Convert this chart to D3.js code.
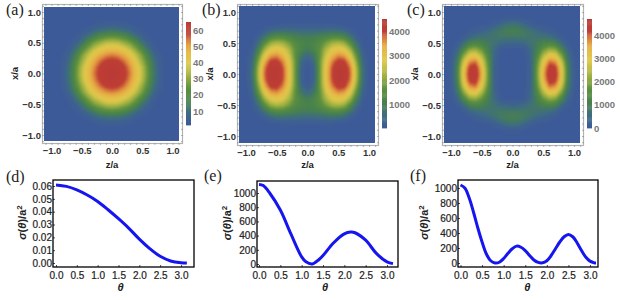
<!DOCTYPE html>
<html lang="en">
<head>
  <meta charset="UTF-8">
  <title>Scattering density and cross sections</title>
  <script src="https://d3js.org/d3.v7.min.js"></script>
  <style>
    html, body { margin: 0; padding: 0; background: #fff; }
    text { font-family: "Liberation Sans", Arial, sans-serif; }
    .panelLabel { font-family: "Liberation Serif", serif; font-size: 16px; fill: #222; }
    .heatTick text { font-size: 9.5px; font-weight: bold; fill: #333; }
    .barTick text { font-size: 9.5px; font-weight: bold; fill: #777; }
    .lineTick text { font-size: 10px; fill: #222; stroke: #222; stroke-width: 0.2px; }
    .title { font-size: 9.5px; font-weight: bold; fill: #222; }
  </style>
</head>
<body>
<svg width="620" height="300" id="chart"></svg>

<script>
  // one quadrant of each density map, rows x/a = 0..1.1, columns z/a = 0..1.1
  const gridA = [
    [65, 64, 60, 54, 46, 36, 24, 12, 4, 1.6, 1.4, 1.4],
    [64, 62.5, 59, 52.5, 45, 35, 23, 11, 3.7, 1.6, 1.4, 1.4],
    [60, 59, 55, 49.5, 41, 31, 21, 9.5, 3.5, 1.6, 1.4, 1.4],
    [54, 52.5, 49.5, 44, 36, 27, 16, 7, 2.8, 1.5, 1.4, 1.4],
    [46, 45, 41, 36, 28, 20, 10.5, 3.7, 1.7, 1.4, 1.4, 1.4],
    [36, 35, 31, 27, 20, 11, 5.5, 2.5, 1.5, 1.4, 1.4, 1.4],
    [24, 23, 21, 16, 10.5, 5.5, 2.8, 1.5, 1.4, 1.4, 1.4, 1.4],
    [12, 11, 9.5, 7, 3.7, 2.5, 1.5, 1.4, 1.4, 1.4, 1.4, 1.4],
    [4, 3.7, 3.5, 2.8, 1.7, 1.5, 1.4, 1.4, 1.4, 1.4, 1.4, 1.4],
    [1.6, 1.6, 1.6, 1.5, 1.4, 1.4, 1.4, 1.4, 1.4, 1.4, 1.4, 1.4],
    [1.4, 1.4, 1.4, 1.4, 1.4, 1.4, 1.4, 1.4, 1.4, 1.4, 1.4, 1.4],
    [1.4, 1.4, 1.4, 1.4, 1.4, 1.4, 1.4, 1.4, 1.4, 1.4, 1.4, 1.4]
  ];
  const gridB = [
    [40, 250, 1700, 3100, 4000, 4500, 4450, 3800, 2300, 600, 80, 30],
    [50, 300, 1700, 3050, 3950, 4450, 4400, 3700, 2200, 560, 70, 30],
    [150, 500, 1700, 2900, 3700, 4150, 4100, 3350, 1900, 450, 60, 30],
    [500, 800, 1600, 2600, 3300, 3650, 3500, 2800, 1500, 320, 40, 30],
    [950, 1150, 1600, 2300, 2800, 3000, 2850, 2150, 1050, 180, 30, 30],
    [1100, 1200, 1450, 1850, 2200, 2300, 2100, 1450, 600, 80, 30, 30],
    [950, 1000, 1100, 1250, 1400, 1400, 1250, 750, 250, 40, 30, 30],
    [500, 520, 550, 600, 620, 580, 450, 220, 60, 30, 30, 30],
    [120, 120, 120, 120, 110, 90, 60, 30, 30, 30, 30, 30],
    [30, 30, 30, 30, 30, 30, 30, 30, 30, 30, 30, 30],
    [30, 30, 30, 30, 30, 30, 30, 30, 30, 30, 30, 30],
    [30, 30, 30, 30, 30, 30, 30, 30, 30, 30, 30, 30]
  ];
  const gridC = [
    [30, 30, 30, 300, 1800, 3500, 4650, 4500, 3100, 1100, 150, 30],
    [30, 30, 30, 300, 1750, 3350, 4450, 4300, 3000, 1050, 140, 30],
    [30, 30, 30, 350, 1600, 2950, 3950, 3750, 2600, 900, 110, 30],
    [30, 30, 50, 450, 1350, 2400, 3100, 2950, 1950, 650, 70, 30],
    [30, 40, 120, 500, 1100, 1750, 2150, 2000, 1250, 380, 40, 30],
    [350, 400, 500, 700, 900, 1150, 1250, 1100, 550, 120, 30, 30],
    [850, 850, 830, 780, 720, 680, 600, 380, 120, 30, 30, 30],
    [1050, 1000, 880, 680, 450, 300, 200, 80, 30, 30, 30, 30],
    [750, 650, 420, 200, 90, 50, 30, 30, 30, 30, 30, 30],
    [120, 100, 60, 30, 30, 30, 30, 30, 30, 30, 30, 30],
    [30, 30, 30, 30, 30, 30, 30, 30, 30, 30, 30, 30],
    [30, 30, 30, 30, 30, 30, 30, 30, 30, 30, 30, 30]
  ];

  const barTicksA = [10, 20, 30, 40, 50, 60];
  const barTicksB = [1000, 2000, 3000, 4000];
  const barTicksC = [0, 1000, 2000, 3000, 4000];
  const mapTicks = [-1, -0.5, 0, 0.5, 1];

  const thetaD = [0, 0.25, 0.5, 0.75, 1, 1.25, 1.5, 1.75, 2, 2.25, 2.5, 2.75, 3, 3.14];
  const sigmaD = [0.0608, 0.0597, 0.057, 0.053, 0.048, 0.0415, 0.0345, 0.027, 0.0186, 0.0112, 0.0052, 0.0016, 0.0002, 0];
  const thetaE = [0, 0.1, 0.25, 0.5, 0.75, 1, 1.1, 1.25, 1.4, 1.5, 1.75, 2, 2.15, 2.25, 2.5, 2.75, 3, 3.14];
  const sigmaE = [1120, 1105, 1000, 760, 420, 100, 30, 0, 60, 120, 300, 425, 450, 440, 335, 150, 30, 5];
  const thetaF = [0, 0.1, 0.2, 0.3, 0.4, 0.5, 0.6, 0.7, 0.8, 0.9, 1, 1.1, 1.2, 1.3, 1.4, 1.5, 1.6, 1.7, 1.8, 1.9, 2, 2.1, 2.2, 2.3, 2.4, 2.5, 2.6, 2.7, 2.8, 2.9, 3, 3.1, 3.14];
  const sigmaF = [1040, 1000, 870, 680, 470, 280, 120, 30, 0, 10, 60, 130, 190, 225, 210, 165, 100, 40, 8, 3, 30, 100, 190, 280, 350, 380, 350, 270, 170, 80, 25, 2, 0];

  const thetaTicks = [0, 0.5, 1, 1.5, 2, 2.5, 3];
  const yTicksD = [0, 0.01, 0.02, 0.03, 0.04, 0.05, 0.06];
  const yTicksE = [0, 200, 400, 600, 800, 1000];
  const yTicksF = [0, 200, 400, 600, 800, 1000];

  const svg = d3.select('#chart');

  const defs = svg.append('defs');
  defs.append('filter').attr('id', 'soft').attr('x', '-5%').attr('y', '-5%').attr('width', '110%').attr('height', '110%')
    .append('feGaussianBlur').attr('stdDeviation', 1.3);

  const ramp = d3.scaleLinear()
    .domain([0, 0.1, 0.22, 0.35, 0.47, 0.6, 0.69, 0.77, 0.82, 0.88, 1])
    .range(['#3d5a98', '#3f6a86', '#47804f', '#5c9040', '#9cb043', '#dcc84a', '#e4c04a', '#e6a543', '#d97f3d', '#bf3f36', '#b93a35']);

  function heatPanel(o) {
    const g = svg.append('g');
    const x = d3.scaleLinear().domain([-1, 1]).range(o.xr);
    const y = d3.scaleLinear().domain([-1, 1]).range(o.yr);
    const t = d3.scaleLinear().domain(o.domain).range([0, 1]);

    // mirror the quadrant out to the full square
    const n = 23;
    const values = [];
    for (let r = 0; r < n; r++) {
      for (let c = 0; c < n; c++) {
        values.push(o.grid[Math.abs(r - 11)][Math.abs(c - 11)]);
      }
    }
    const thresholds = d3.range(80).map(i => o.domain[0] + (o.domain[1] - o.domain[0]) * i / 80);
    const contours = d3.contours().size([n, n]).thresholds(thresholds)(values);
    const path = d3.geoPath(d3.geoTransform({
      point(px, py) {
        this.stream.point(x((px - 0.5) * 0.1 - 1.1), y((py - 0.5) * 0.1 - 1.1));
      }
    }));

    const clipId = 'clip' + o.name.replace(/\W/g, '');
    g.append('clipPath').attr('id', clipId).append('rect')
      .attr('x', o.heat[0]).attr('y', o.heat[1])
      .attr('width', o.heat[2] - o.heat[0]).attr('height', o.heat[3] - o.heat[1]);

    const heat = g.append('g').attr('clip-path', `url(#${clipId})`);
    heat.append('rect')
      .attr('x', o.heat[0]).attr('y', o.heat[1])
      .attr('width', o.heat[2] - o.heat[0]).attr('height', o.heat[3] - o.heat[1])
      .attr('fill', ramp(0));
    heat.append('g').attr('filter', 'url(#soft)')
      .selectAll('path').data(contours).enter().append('path')
      .attr('d', path)
      .attr('fill', d => ramp(t(d.value)));

    // frame with inward ticks
    g.append('rect')
      .attr('x', o.frame[0] + 0.5).attr('y', o.frame[1] + 0.5)
      .attr('width', o.frame[2] - o.frame[0]).attr('height', o.frame[3] - o.frame[1])
      .attr('fill', 'none').attr('stroke', '#b4b4b4').attr('stroke-width', 1.2);

    const minor = d3.range(-11, 12).map(v => v / 10);
    g.selectAll('.mt').data(minor).enter().append('line')
      .attr('x1', d => x(d) + 0.5).attr('x2', d => x(d) + 0.5)
      .attr('y1', o.frame[1]).attr('y2', o.frame[1] + 2).attr('stroke', '#888').attr('stroke-width', 0.6);
    g.selectAll('.mb').data(minor).enter().append('line')
      .attr('x1', d => x(d) + 0.5).attr('x2', d => x(d) + 0.5)
      .attr('y1', o.frame[3]).attr('y2', o.frame[3] + 2).attr('stroke', '#888').attr('stroke-width', 0.6);
    g.selectAll('.ml').data(minor).enter().append('line')
      .attr('y1', d => y(d) + 0.5).attr('y2', d => y(d) + 0.5)
      .attr('x1', o.frame[0]).attr('x2', o.frame[0] + 2).attr('stroke', '#888').attr('stroke-width', 0.6);
    g.selectAll('.mr').data(minor).enter().append('line')
      .attr('y1', d => y(d) + 0.5).attr('y2', d => y(d) + 0.5)
      .attr('x1', o.frame[2] - 1).attr('x2', o.frame[2] + 1).attr('stroke', '#888').attr('stroke-width', 0.6);

    const fmt = v => d3.format('.1f')(v).replace('-', '\u2212');
    const bottom = g.append('g').attr('class', 'heatTick')
      .attr('transform', `translate(0,${o.frame[3]})`)
      .call(d3.axisBottom(x).tickValues(mapTicks).tickFormat(fmt).tickSize(0).tickPadding(4));
    bottom.select('.domain').remove();
    const left = g.append('g').attr('class', 'heatTick')
      .attr('transform', `translate(${o.frame[0]},0)`)
      .call(d3.axisLeft(y).tickValues(mapTicks).tickFormat(fmt).tickSize(0).tickPadding(1));
    left.select('.domain').remove();

    g.append('text').attr('class', 'title')
      .attr('x', x(0)).attr('y', 168).attr('text-anchor', 'middle').text('z/a');
    g.append('text').attr('class', 'title')
      .attr('transform', `translate(${o.frame[0] - 24},${y(0)}) rotate(-90)`)
      .attr('text-anchor', 'middle').text('x/a');

    // colour bar
    const barY = d3.scaleLinear().domain(o.domain).range(o.barY);
    const steps = d3.range(0, 1, 0.01);
    const barH = (o.barY[0] - o.barY[1]) * 0.01;
    g.selectAll('.cb').data(steps).enter().append('rect')
      .attr('x', o.barX).attr('width', 5)
      .attr('y', d => o.barY[0] - (d + 0.01) * (o.barY[0] - o.barY[1]))
      .attr('height', barH + 0.4)
      .attr('fill', d => ramp(d));
    const bar = g.append('g').attr('class', 'barTick')
      .attr('transform', `translate(${o.barX + 5},0)`)
      .call(d3.axisRight(barY).tickValues(o.barTicks).tickFormat(d3.format('d')).tickSize(0).tickPadding(2));
    bar.select('.domain').remove();

    g.append('text').attr('class', 'panelLabel')
      .attr('x', o.label[0]).attr('y', o.label[1]).text(o.name);
  }

  function linePanel(o) {
    const g = svg.append('g');
    const x = d3.scaleLinear().domain([0, 3]).range(o.xr);
    const y = d3.scaleLinear().domain(o.yd).range(o.yr);
    const pts = o.theta.map((v, i) => [v, o.sigma[i]]);
    const line = d3.line().x(d => x(d[0])).y(d => y(d[1])).curve(d3.curveCatmullRom.alpha(0.5));

    g.append('path').attr('d', line(pts))
      .attr('fill', 'none').attr('stroke', '#1515f0').attr('stroke-width', 3);

    g.append('rect')
      .attr('x', o.frame[0]).attr('y', o.frame[1])
      .attr('width', o.frame[2] - o.frame[0]).attr('height', o.frame[3] - o.frame[1])
      .attr('fill', 'none').attr('stroke', '#000').attr('stroke-width', 1.3);

    const xAxis = g.append('g').attr('class', 'lineTick')
      .attr('transform', `translate(0,${o.frame[3]})`)
      .call(d3.axisBottom(x).tickValues(thetaTicks).tickFormat(d3.format('.1f')).tickSize(-2).tickPadding(5));
    xAxis.select('.domain').remove();
    xAxis.selectAll('line').attr('stroke-width', 0.7);
    const yAxis = g.append('g').attr('class', 'lineTick')
      .attr('transform', `translate(${o.frame[0]},0)`)
      .call(d3.axisLeft(y).tickValues(o.yTicks).tickFormat(o.yFmt).tickSize(-2).tickPadding(1));
    yAxis.select('.domain').remove();
    yAxis.selectAll('line').attr('stroke-width', 0.7);

    g.append('text').attr('class', 'title')
      .attr('x', x(1.55)).attr('y', 291).attr('text-anchor', 'middle')
      .attr('font-style', 'italic').style('font-size', '11px').text('\u03b8');

    const yt = g.append('text').attr('class', 'title')
      .attr('transform', `translate(${o.yTitleX},${(o.frame[1] + o.frame[3]) / 2 - 1}) rotate(-90)`)
      .attr('text-anchor', 'middle').style('font-size', '11px');
    yt.append('tspan').attr('font-style', 'italic').text('\u03c3');
    yt.append('tspan').text('(');
    yt.append('tspan').attr('font-style', 'italic').text('\u03b8');
    yt.append('tspan').text(')/a');
    yt.append('tspan').attr('dy', -4).style('font-size', '8px').text('2');

    g.append('text').attr('class', 'panelLabel')
      .attr('x', o.label[0]).attr('y', o.label[1]).text(o.name);
  }

  heatPanel({ name: '(a)', grid: gridA, domain: [1.4, 65], barTicks: barTicksA,
    frame: [42, 4, 182, 143], heat: [44, 7, 179, 141], xr: [51.5, 172.5], yr: [135, 12],
    barX: 186, barY: [125, 22], label: [6, 15] });
  heatPanel({ name: '(b)', grid: gridB, domain: [30, 4500], barTicks: barTicksB,
    frame: [237, 4, 378, 145], heat: [239, 6, 375, 143], xr: [246, 369], yr: [136, 12],
    barX: 382, barY: [128, 19], label: [202, 15] });
  heatPanel({ name: '(c)', grid: gridC, domain: [0, 4700], barTicks: barTicksC,
    frame: [442, 4, 583, 145], heat: [444, 6, 580, 143], xr: [451, 574], yr: [136, 12],
    barX: 587, barY: [128, 19], label: [407, 15] });

  linePanel({ name: '(d)', theta: thetaD, sigma: sigmaD, yd: [0, 0.06], yTicks: yTicksD, yFmt: d3.format('.2f'),
    frame: [53, 180, 194, 267], xr: [56, 181], yr: [263, 186], yTitleX: 26, label: [6, 182] });
  linePanel({ name: '(e)', theta: thetaE, sigma: sigmaE, yd: [0, 1000], yTicks: yTicksE, yFmt: d3.format('d'),
    frame: [257, 181, 398, 267], xr: [259, 387], yr: [264, 193], yTitleX: 231, label: [204, 181] });
  linePanel({ name: '(f)', theta: thetaF, sigma: sigmaF, yd: [0, 1000], yTicks: yTicksF, yFmt: d3.format('d'),
    frame: [458, 180, 598, 267], xr: [460.5, 590], yr: [263, 188], yTitleX: 428, label: [410, 181] });
</script>
</body>
</html>
